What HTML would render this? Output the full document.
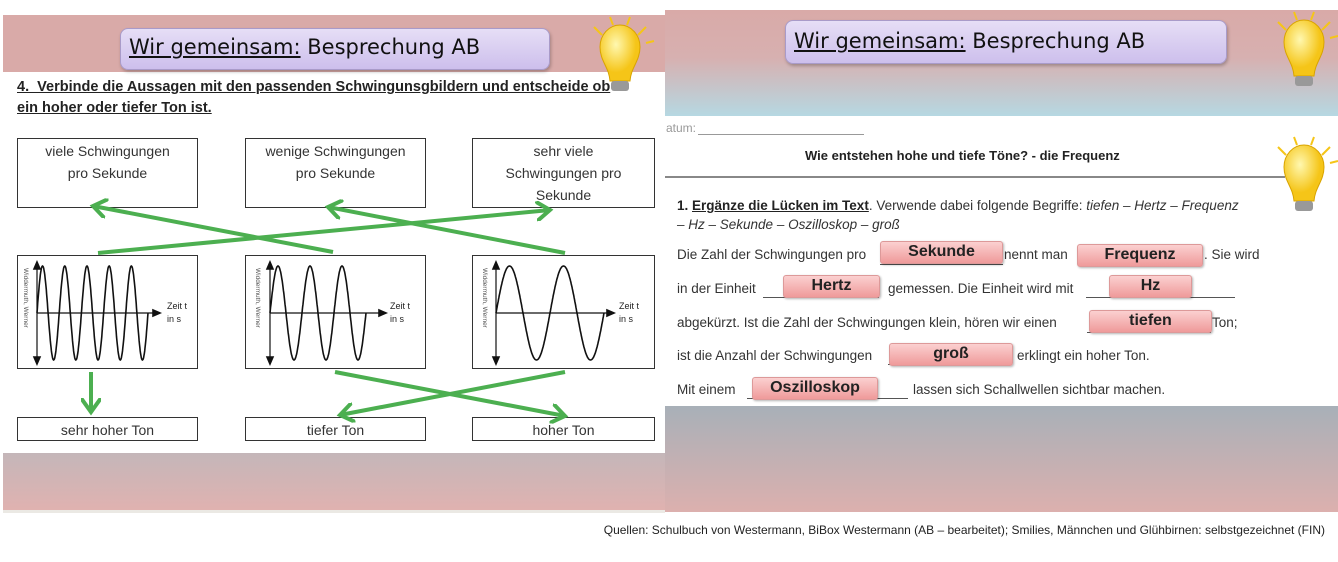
<!DOCTYPE html>
<html><head><meta charset="utf-8"><style>
body{margin:0;width:1338px;height:562px;background:#fff;position:relative;overflow:hidden;font-family:"Liberation Sans",sans-serif}
.a{position:absolute}
.title{position:absolute;background:linear-gradient(#e6def6,#cdbfec);border:1px solid #a99bc9;border-radius:8px;font-family:"DejaVu Sans",sans-serif;font-size:21px;color:#111;box-shadow:1px 2px 3px rgba(0,0,0,.25)}
.title span{position:absolute;top:6px}
.box{position:absolute;border:1px solid #333;background:#fff;text-align:center;font-size:14px;color:#333;line-height:22px;padding-top:1px;box-sizing:border-box}
.fill{position:absolute;background:linear-gradient(#fbd0d0,#ef9a9a);border:1px solid #d99;border-radius:3px;font-weight:bold;font-size:16px;text-align:center;color:#222;line-height:20px;box-shadow:1px 1px 2px rgba(0,0,0,.3)}
.t{position:absolute;font-size:13.5px;color:#333;white-space:nowrap}
.u{position:absolute;border-bottom:1px solid #555}
</style></head><body>
<div class="a" style="left:3px;top:15px;width:662px;height:57px;background:#d9aaa8"></div>
<div class="a" style="left:3px;top:453px;width:662px;height:57px;background:linear-gradient(#c4b6b9,#e0b2b0)"></div>
<div class="a" style="left:3px;top:510px;width:662px;height:3px;background:#ebe9e4"></div>
<div class="title" style="left:120px;top:28px;width:428px;height:40px"><span style="left:8px"><u>Wir gemeinsam:</u> Besprechung AB</span></div>
<div class="a" style="left:17px;top:77px;font-size:14.5px;font-weight:bold;text-decoration:underline;color:#222;line-height:21px;width:640px">4.&nbsp; Verbinde die Aussagen mit den passenden Schwingunsgbildern und entscheide ob<br>ein hoher oder tiefer Ton ist.</div>
<div class="box" style="left:17px;top:138px;width:181px;height:70px">viele Schwingungen<br>pro Sekunde</div>
<div class="box" style="left:245px;top:138px;width:181px;height:70px">wenige Schwingungen<br>pro Sekunde</div>
<div class="box" style="left:472px;top:138px;width:183px;height:70px">sehr viele<br>Schwingungen pro<br>Sekunde</div>
<div class="box" style="left:17px;top:255px;width:181px;height:114px"></div>
<div class="box" style="left:245px;top:255px;width:181px;height:114px"></div>
<div class="box" style="left:472px;top:255px;width:183px;height:114px"></div>
<div class="box" style="left:17px;top:417px;width:181px;height:24px">sehr hoher Ton</div>
<div class="box" style="left:245px;top:417px;width:181px;height:24px">tiefer Ton</div>
<div class="box" style="left:472px;top:417px;width:183px;height:24px">hoher Ton</div>
<div class="a" style="left:665px;top:10px;width:673px;height:106px;background:linear-gradient(#d9aaa8 0%,#d7b0b0 45%,#b6d8e2 100%)"></div>
<div class="a" style="left:665px;top:406px;width:673px;height:106px;background:linear-gradient(#a8b0b8,#dcb0ae)"></div>
<div class="title" style="left:785px;top:20px;width:440px;height:42px"><span style="left:8px;top:8px"><u>Wir gemeinsam:</u> Besprechung AB</span></div>
<div class="t" style="left:666px;top:121px;color:#999;font-size:12px">atum:</div>
<div class="u" style="left:698px;top:120px;width:166px;height:14px;border-color:#999"></div>
<div class="t" style="left:805px;top:148px;font-weight:bold;color:#222;font-size:13px">Wie entstehen hohe und tiefe Töne? - die Frequenz</div>
<div class="a" style="left:665px;top:176px;width:620px;height:2px;background:#888"></div>
<div class="t" style="left:677px;top:196px;font-size:13.5px;line-height:19px"><b style="color:#222">1. <u>Ergänze die Lücken im Text</u></b>. Verwende dabei folgende Begriffe: <i>tiefen – Hertz – Frequenz</i><br><i>– Hz – Sekunde – Oszilloskop – groß</i></div>
<div class="t" style="left:677px;top:247px">Die Zahl der Schwingungen pro</div>
<div class="t" style="left:1004px;top:247px">nennt man</div>
<div class="t" style="left:1204px;top:247px">. Sie wird</div>
<div class="t" style="left:677px;top:281px">in der Einheit</div>
<div class="t" style="left:888px;top:281px">gemessen. Die Einheit wird mit</div>
<div class="t" style="left:677px;top:315px">abgekürzt. Ist die Zahl der Schwingungen klein, hören wir einen</div>
<div class="t" style="left:1212px;top:315px">Ton;</div>
<div class="t" style="left:677px;top:348px">ist die Anzahl der Schwingungen</div>
<div class="t" style="left:1017px;top:348px">erklingt ein hoher Ton.</div>
<div class="t" style="left:677px;top:382px">Mit einem</div>
<div class="t" style="left:913px;top:382px">lassen sich Schallwellen sichtbar machen.</div>
<div class="u" style="left:880px;top:250px;width:123px;height:14px"></div>
<div class="u" style="left:763px;top:283px;width:116px;height:14px"></div>
<div class="u" style="left:1086px;top:283px;width:149px;height:14px"></div>
<div class="u" style="left:1087px;top:318px;width:124px;height:14px"></div>
<div class="u" style="left:888px;top:350px;width:124px;height:14px"></div>
<div class="u" style="left:747px;top:384px;width:161px;height:14px"></div>
<div class="fill" style="left:880px;top:241px;width:121px;height:21px">Sekunde</div>
<div class="fill" style="left:1077px;top:244px;width:124px;height:21px">Frequenz</div>
<div class="fill" style="left:783px;top:275px;width:95px;height:21px">Hertz</div>
<div class="fill" style="left:1109px;top:275px;width:81px;height:21px">Hz</div>
<div class="fill" style="left:1089px;top:310px;width:121px;height:21px">tiefen</div>
<div class="fill" style="left:889px;top:343px;width:122px;height:21px">groß</div>
<div class="fill" style="left:752px;top:377px;width:124px;height:21px">Oszilloskop</div>
<div class="t" style="right:13px;top:523px;font-size:12px;color:#222">Quellen: Schulbuch von Westermann, BiBox Westermann (AB – bearbeitet); Smilies, Männchen und Glühbirnen: selbstgezeichnet (FIN)</div>
<svg class="a" style="left:0;top:0" width="1338" height="562" id="s">
<defs><marker id="ah" markerWidth="5" markerHeight="5" refX="3.5" refY="2.5" orient="auto" markerUnits="strokeWidth"><path d="M0,0 L3.5,2.5 L0,5" fill="none" stroke="#4caf50" stroke-width="1"/></marker>
<radialGradient id="bulb" cx="40%" cy="35%"><stop offset="0" stop-color="#fff8b0"/><stop offset="1" stop-color="#f5c518"/></radialGradient></defs>
<g stroke="#4caf50" stroke-width="4" fill="none" marker-end="url(#ah)">
<line x1="333" y1="252" x2="93" y2="206"/>
<line x1="98" y1="253" x2="550" y2="210"/>
<line x1="565" y1="253" x2="328" y2="207"/>
<line x1="91" y1="372" x2="91" y2="412"/>
<line x1="335" y1="372" x2="565" y2="416"/>
<line x1="565" y1="372" x2="340" y2="415"/>
</g>
<g id="w" stroke="#111" fill="none" stroke-width="1.6"></g>
<g font-size="9" fill="#222" font-family="Liberation Sans">
<text x="167" y="309">Zeit t</text><text x="167" y="322">in s</text>
<text x="390" y="309">Zeit t</text><text x="390" y="322">in s</text>
<text x="619" y="309">Zeit t</text><text x="619" y="322">in s</text>
<text transform="translate(24,268) rotate(90)" font-size="6.5" fill="#555">Widdermuth, Werner</text>
<text transform="translate(256,268) rotate(90)" font-size="6.5" fill="#555">Widdermuth, Werner</text>
<text transform="translate(483,268) rotate(90)" font-size="6.5" fill="#555">Widdermuth, Werner</text>
</g>
<g id="bulbs"></g>
</svg>
<script>
var w=document.getElementById('w'),ns='http://www.w3.org/2000/svg';
function el(n,a,p){var e=document.createElementNS(ns,n);for(var k in a)e.setAttribute(k,a[k]);(p||w).appendChild(e);return e;}
[[37,148,5,160],[270,366,3,386],[496,604,2,614]].forEach(function(c){
 var x0=c[0],x1=c[1],n=c[2],y=313,A=47,d='';
 for(var i=0;i<=300;i++){var x=x0+(x1-x0)*i/300;d+=(i?'L':'M')+x.toFixed(1)+','+(y-A*Math.sin(2*Math.PI*n*i/300)).toFixed(1);}
 el('path',{d:d});
 el('line',{x1:x0,y1:y,x2:c[3]-6,y2:y,'stroke-width':1.2});
 el('path',{d:'M'+c[3]+','+y+' l-7,-3 v6z',fill:'#111'});
 el('line',{x1:x0,y1:268,x2:x0,y2:360,'stroke-width':1.2});
 el('path',{d:'M'+x0+',262 l-3,7 h6z',fill:'#111'});
 el('path',{d:'M'+x0+',364 l-3,-7 h6z',fill:'#111'});
});
var b=document.getElementById('bulbs');
[[620,55],[1304,50],[1304,175]].forEach(function(p){
 var x=p[0],y=p[1];
 el('path',{d:'M'+(x-20)+','+(y-8)+' a20,22 0 1 1 40,0 c0,14 -9,20 -10,34 h-20 c-1,-14 -10,-20 -10,-34z',fill:'url(#bulb)',stroke:'#d9a400','stroke-width':1},b);
 el('rect',{x:x-9,y:y+26,width:18,height:10,rx:3,fill:'#999'},b);
 [[-26,-28,-18,-20],[-10,-38,-7,-30],[10,-38,7,-30],[26,-28,18,-20],[34,-14,26,-12]].forEach(function(r){
  el('line',{x1:x+r[0],y1:y+r[1],x2:x+r[2],y2:y+r[3],stroke:'#f5c518','stroke-width':2},b);});
});
</script>
</body></html>
